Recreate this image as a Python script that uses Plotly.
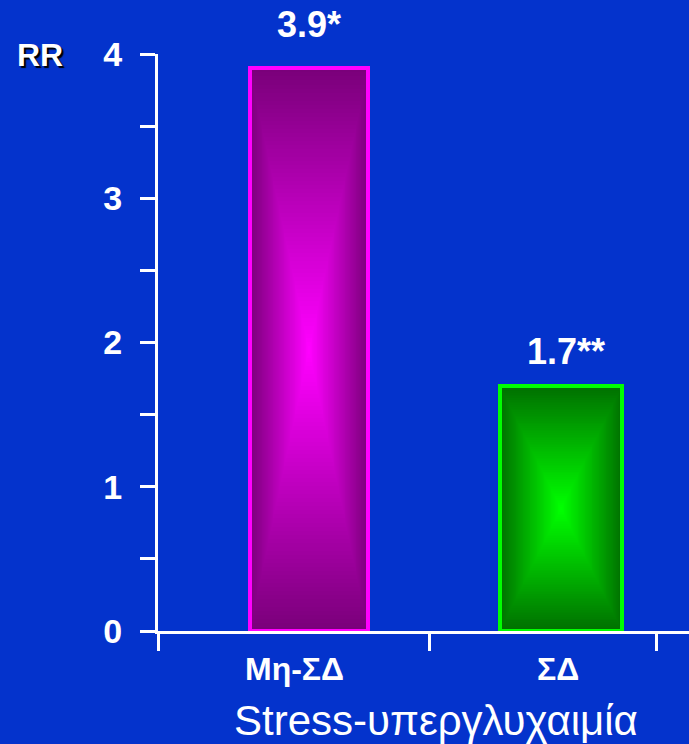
import numpy as np
import plotly.graph_objects as go

# Relative risk by group
categories = ["Μη-ΣΔ", "ΣΔ"]
rr_values = [3.9, 1.7]
significance = ["*", "**"]
y_ticks = [0, 1, 2, 3, 4]
x_title = "Stress-υπεργλυχαιμία"
y_title = "RR"

# Styling
BG = "#0433CC"
FONT = "Liberation Sans"
bar_widths = [0.47, 0.485]
edge_colors = [(122, 0, 122), (0, 112, 0)]
center_colors = [(255, 0, 255), (0, 255, 0)]
outline_colors = ["#FF00FF", "#00FF00"]
label_shift = [44, 34]
label_xshift = [0, 5]
cat_xshift = [-15, -3]

xpos = list(range(len(categories)))

# Rectangular "from centre" gradient built from concentric bars
N = 70
gx, gy, gbase, gw, gc = [], [], [], [], []
for k in range(N):
    s = 1 - k / N
    t = k / (N - 1)
    for i, v in enumerate(rr_values):
        e, c = edge_colors[i], center_colors[i]
        col = tuple(int(round(e[j] + (c[j] - e[j]) * t)) for j in range(3))
        gx.append(xpos[i])
        gy.append(v * s)
        gbase.append(v * (1 - s) / 2)
        gw.append(bar_widths[i] * s)
        gc.append(f"rgb{col}")

fig = go.Figure()
fig.add_trace(go.Bar(
    x=gx, y=gy, base=gbase, width=gw,
    marker=dict(color=gc, line=dict(width=0)),
    hoverinfo="skip", showlegend=False,
))
fig.add_trace(go.Bar(
    x=xpos, y=rr_values, width=bar_widths,
    marker=dict(color="rgba(0,0,0,0)", line=dict(color=outline_colors, width=4)),
    showlegend=False,
))

# Value labels
for i, v in enumerate(rr_values):
    fig.add_annotation(
        x=xpos[i], y=v, text=f"{v}{significance[i]}", showarrow=False,
        yanchor="middle", yshift=label_shift[i], xshift=label_xshift[i],
        font=dict(family=FONT, size=36, color="white", weight="bold"),
    )

# Category labels
for i, cat in enumerate(categories):
    fig.add_annotation(
        x=xpos[i], y=0, yref="y", text=cat, showarrow=False,
        yanchor="middle", yshift=-38, xshift=cat_xshift[i],
        font=dict(family=FONT, size=32, color="white", weight="bold"),
    )

# Axis title below the plot
fig.add_annotation(
    x=(436 - 158) / 531, y=-(720 - 631) / 577, xref="paper", yref="paper",
    text=x_title, showarrow=False, xanchor="center", yanchor="middle",
    font=dict(family=FONT, size=42, color="white"),
)
# RR label at top-left
fig.add_annotation(
    x=-(158 - 40) / 531, y=1 - (55 - 54) / 577, xref="paper", yref="paper",
    text=y_title, showarrow=False, xanchor="center", yanchor="middle",
    font=dict(family=FONT, size=32, color="white", weight="bold",
              shadow="2px 2px 1px #000000"),
)

# Y axis ticks every 0.5, labelled at integers
yt_vals = [v / 2 for v in range(0, 2 * max(y_ticks) + 1)]
yt_text = [str(int(v)) if v in y_ticks else "" for v in yt_vals]

left = (158 - 309) / 252
right = left + 531 / 252
x_tick_vals = [left + 0.001, (429 - 309) / 252, (656 - 309) / 252]

fig.update_layout(
    width=689, height=744,
    margin=dict(l=158, r=0, t=54, b=113, pad=0),
    paper_bgcolor=BG, plot_bgcolor=BG,
    barmode="overlay", bargap=0,
    showlegend=False,
    font=dict(family=FONT, color="white"),
    xaxis=dict(
        range=[left, right], showgrid=False, zeroline=False,
        showline=True, linecolor="white", linewidth=3,
        ticks="outside", ticklen=17, tickwidth=3, tickcolor="white",
        tickvals=x_tick_vals, ticktext=["", "", ""],
        fixedrange=True,
    ),
    yaxis=dict(
        range=[0, 4], showgrid=False, zeroline=False,
        showline=True, linecolor="white", linewidth=3,
        ticks="outside", ticklen=15, tickwidth=3, tickcolor="white",
        tickvals=yt_vals, ticktext=yt_text, ticklabelstandoff=11,
        tickfont=dict(family=FONT, size=34, color="white", weight="bold"),
        fixedrange=True,
    ),
)

fig.write_html("out.html")
